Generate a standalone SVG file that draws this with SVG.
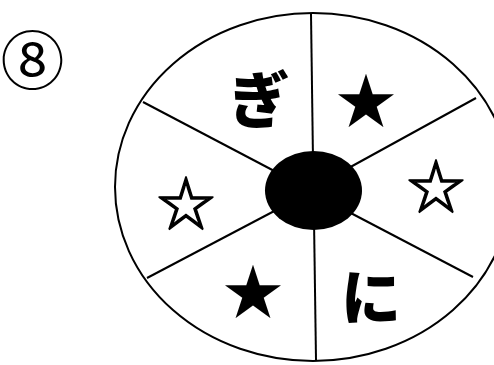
<svg xmlns="http://www.w3.org/2000/svg" width="494" height="365" viewBox="0 0 494 365">
<style>
.t{font-family:"Noto Sans CJK JP","Noto Sans",sans-serif;text-anchor:middle;dominant-baseline:central;fill:#000}
.b{font-weight:900}
.h{stroke:#000;stroke-width:1.4}
.ln{stroke:#000;stroke-width:2;fill:none}
</style>
<rect width="494" height="365" fill="#fff"/>
<g id="label">
<text class="t" x="32.5" y="56" font-size="64">⑧</text>
</g>
<g id="wheel">
<ellipse cx="313" cy="187" rx="198" ry="174" fill="#fff" stroke="#000" stroke-width="2"/>
</g>
<g id="connectors">
<line class="ln" x1="311" y1="14" x2="313" y2="160"/>
<line class="ln" x1="314" y1="220" x2="316" y2="360"/>
<line class="ln" x1="143" y1="102" x2="280" y2="174"/>
<line class="ln" x1="147" y1="278" x2="280" y2="208"/>
<line class="ln" x1="476" y1="98" x2="345" y2="170"/>
<line class="ln" x1="473" y1="277" x2="345" y2="210"/>
</g>
<g id="hub">
<ellipse cx="313.5" cy="190.5" rx="48.5" ry="39.5" fill="#000"/>
</g>
<g id="seg-gi"><text class="t b" x="259" y="96" font-size="61">ぎ</text></g>
<g id="seg-star1"><text class="t" x="366" y="96" font-size="60">★</text></g>
<g id="seg-star2"><text class="t h" x="436" y="183" font-size="58">☆</text></g>
<g id="seg-ni"><text class="t b" x="371" y="293" font-size="60">に</text></g>
<g id="seg-star3"><text class="t" x="253" y="287" font-size="60">★</text></g>
<g id="seg-star4"><text class="t h" x="186" y="200" font-size="58">☆</text></g>
</svg>
